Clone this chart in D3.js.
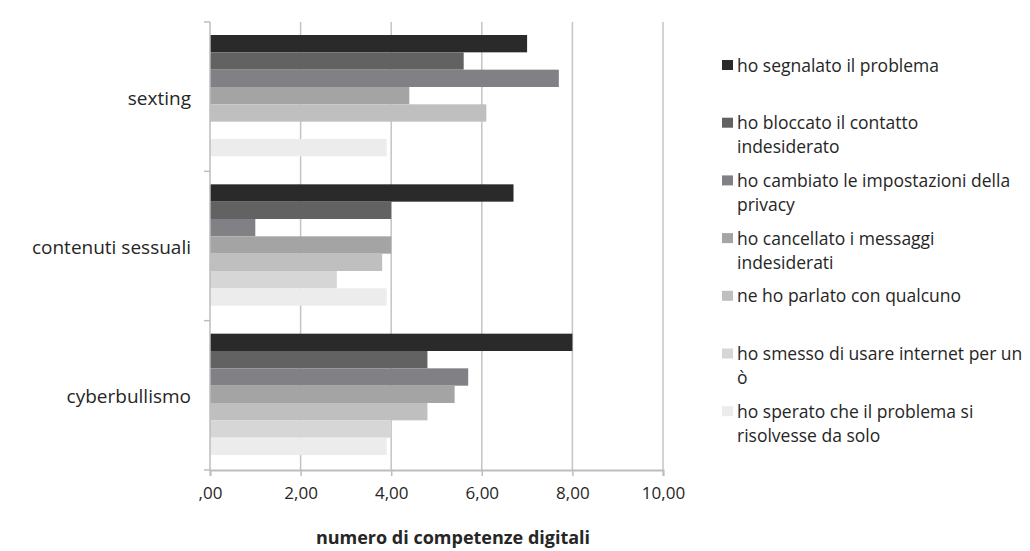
<!DOCTYPE html>
<html lang="it">
<head>
<meta charset="utf-8">
<script src="https://cdn.jsdelivr.net/npm/d3@7"></script>
<style>
  html, body { margin: 0; padding: 0; background: #fff; }
  svg text { font-family: "Open Sans", "Noto Sans", sans-serif; fill: #262626; }
</style>
</head>
<body>
<svg id="chart" width="1030" height="551"></svg>
<script>
// Categories (top to bottom) and the seven response series
const categories = ["sexting", "contenuti sessuali", "cyberbullismo"];
const seriesNames = [
  "ho segnalato il problema",
  "ho bloccato il contatto indesiderato",
  "ho cambiato le impostazioni della privacy",
  "ho cancellato i messaggi indesiderati",
  "ne ho parlato con qualcuno",
  "ho smesso di usare internet per un ò",
  "ho sperato che il problema si risolvesse da solo"
];
// Legend lines as wrapped in the legend box
const legendLines = [
  ["ho segnalato il problema"],
  ["ho bloccato il contatto", "indesiderato"],
  ["ho cambiato le impostazioni della", "privacy"],
  ["ho cancellato i messaggi", "indesiderati"],
  ["ne ho parlato con qualcuno"],
  ["ho smesso di usare internet per un", "ò"],
  ["ho sperato che il problema si", "risolvesse da solo"]
];
// Values per series, in category order
const segnalato   = [7.0, 6.7, 8.0];
const bloccato    = [5.6, 4.0, 4.8];
const privacy     = [7.7, 1.0, 5.7];
const cancellato  = [4.4, 4.0, 5.4];
const parlato     = [6.1, 3.8, 4.8];
const smesso      = [0.0, 2.8, 4.0];
const sperato     = [3.9, 3.9, 3.9];
const seriesValues = [segnalato, bloccato, privacy, cancellato, parlato, smesso, sperato];

const xTicks = [0, 2, 4, 6, 8, 10];
const xTickLabels = [",00", "2,00", "4,00", "6,00", "8,00", "10,00"];
const xTitle = "numero di competenze digitali";

const colors = ["#2a2a2a", "#626262", "#818084", "#a4a4a4", "#bfbfbf", "#d6d6d6", "#ececec"];

const svg = d3.select("#chart");
const plot = { left: 210, right: 663, top: 22, bottom: 470 };

const x = d3.scaleLinear().domain([0, 10]).range([plot.left, plot.right]);
const y = d3.scaleBand().domain(categories).range([plot.top, plot.bottom]).paddingInner(0).paddingOuter(0);
const inner = d3.scaleBand().domain(d3.range(seriesNames.length))
  .range([13, y.bandwidth() - 15]).padding(0);

// Vertical gridlines
svg.append("g").selectAll("line")
  .data(xTicks.slice(1))
  .join("line")
  .attr("x1", d => x(d)).attr("x2", d => x(d))
  .attr("y1", plot.top).attr("y2", plot.bottom)
  .attr("stroke", "#c4c4c4").attr("stroke-width", 1.5);

// Bars
const groups = svg.append("g").selectAll("g")
  .data(categories)
  .join("g")
  .attr("transform", d => `translate(0,${y(d)})`);

groups.selectAll("rect")
  .data((c, ci) => seriesValues.map((vals, si) => ({ si, v: vals[ci] })))
  .join("rect")
  .attr("x", x(0))
  .attr("y", d => inner(d.si))
  .attr("width", d => x(d.v) - x(0))
  .attr("height", inner.bandwidth())
  .attr("fill", d => colors[d.si]);

// X axis
const xAxis = d3.axisBottom(x)
  .tickValues(xTicks)
  .tickFormat((d, i) => xTickLabels[i])
  .tickSize(6)
  .tickPadding(11);
const gx = svg.append("g")
  .attr("transform", `translate(0,${plot.bottom})`)
  .call(xAxis);
gx.select(".domain").attr("stroke", "#bdbdbd").attr("stroke-width", 2);
gx.selectAll(".tick line").attr("stroke", "#bdbdbd").attr("stroke-width", 1.5);
gx.selectAll(".tick text").attr("font-size", 17).attr("fill", "#262626")
  .style("font-family", "'Open Sans', sans-serif");

// Y axis
const yBoundaries = d3.scaleLinear().domain([0, categories.length]).range([plot.top, plot.bottom]);
svg.append("line")
  .attr("x1", plot.left).attr("x2", plot.left)
  .attr("y1", plot.top).attr("y2", plot.bottom)
  .attr("stroke", "#bdbdbd").attr("stroke-width", 1.5);
svg.append("g").selectAll("line")
  .data(d3.range(categories.length + 1))
  .join("line")
  .attr("x1", plot.left - 6).attr("x2", plot.left)
  .attr("y1", d => yBoundaries(d)).attr("y2", d => yBoundaries(d))
  .attr("stroke", "#bdbdbd").attr("stroke-width", 1.5);

svg.append("g").selectAll("text")
  .data(categories)
  .join("text")
  .attr("x", plot.left - 19)
  .attr("y", d => y(d) + y.bandwidth() / 2 + 3)
  .attr("text-anchor", "end")
  .attr("dominant-baseline", "middle")
  .attr("font-size", 19)
  .text(d => d);

// Axis title
svg.append("text")
  .attr("x", 453)
  .attr("y", 539)
  .attr("text-anchor", "middle")
  .attr("dominant-baseline", "middle")
  .attr("font-size", 18)
  .attr("font-weight", "bold")
  .text(xTitle);

// Legend
const legend = svg.append("g").attr("transform", "translate(722,0)");
const legendY = d3.scaleLinear().domain([0, 1]).range([67, 124.7]);
const items = legend.selectAll("g")
  .data(legendLines)
  .join("g")
  .attr("transform", (d, i) => `translate(0,${legendY(i)})`);
items.append("rect")
  .attr("x", 0).attr("y", -7)
  .attr("width", 11).attr("height", 10)
  .attr("fill", (d, i) => colors[i]);
items.selectAll("text")
  .data(d => d)
  .join("text")
  .attr("x", 15)
  .attr("y", (d, j) => j * 24)
  .attr("dominant-baseline", "middle")
  .attr("font-size", 17.5)
  .text(d => d);
</script>
</body>
</html>
